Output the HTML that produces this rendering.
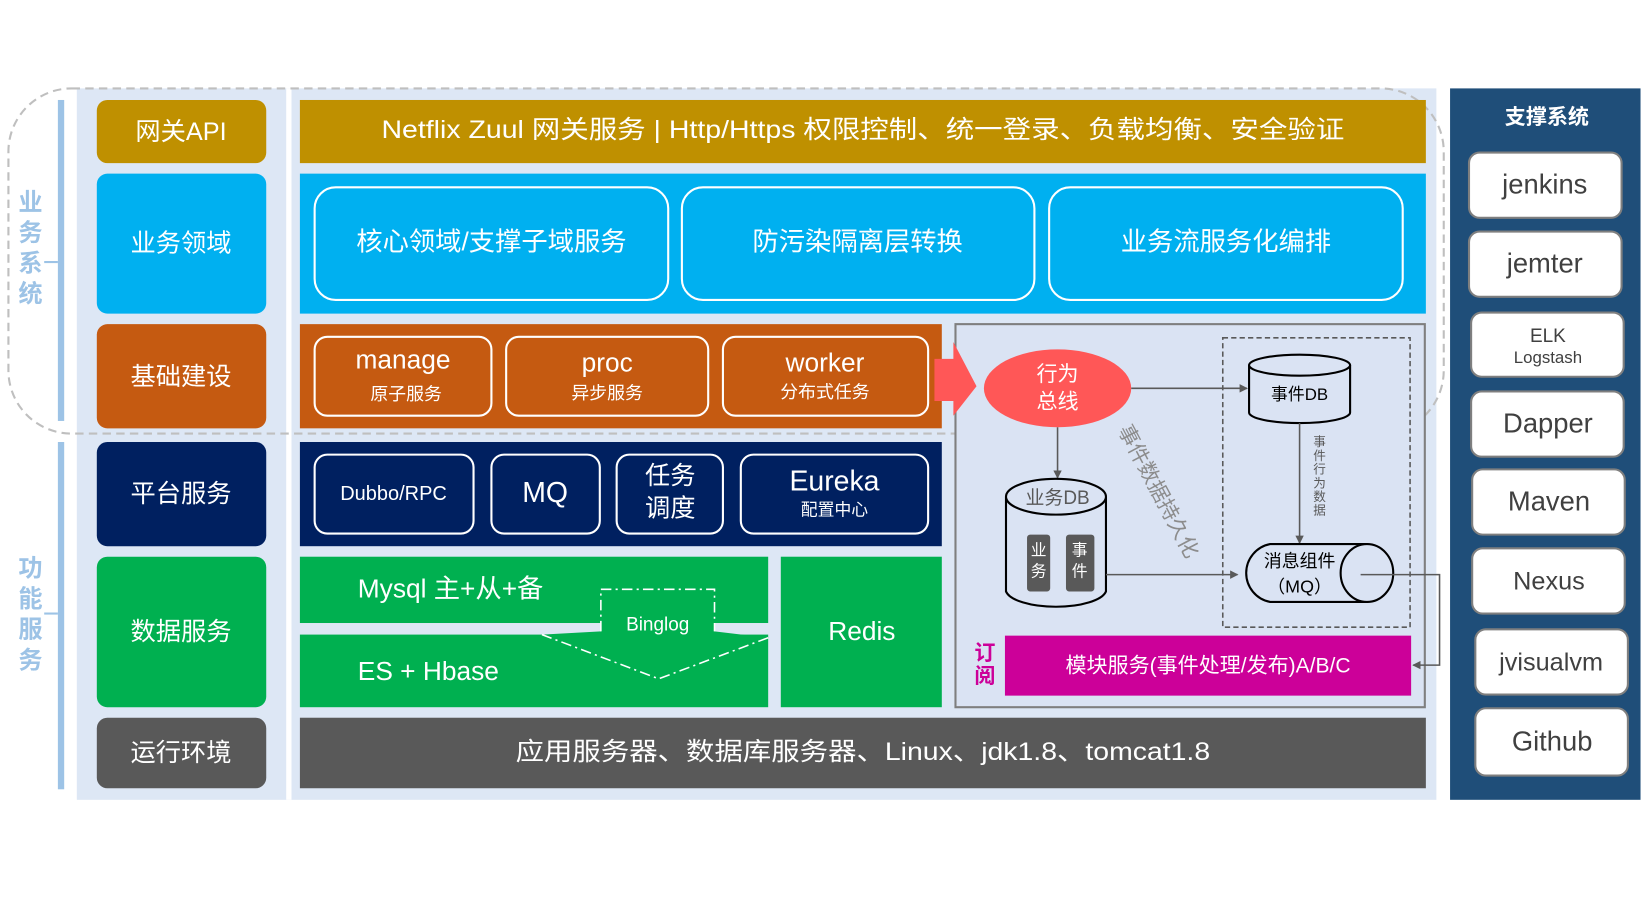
<!DOCTYPE html>
<html><head><meta charset="utf-8"><style>
html,body{margin:0;padding:0;background:#fff;width:1650px;height:924px;overflow:hidden}
svg{display:block}
text{font-family:"Liberation Sans","Noto Sans CJK SC",sans-serif}
</style></head><body>
<svg width="1650" height="924" viewBox="0 0 1568 878" preserveAspectRatio="none" xmlns="http://www.w3.org/2000/svg">
<defs>
<marker id="ah" markerWidth="8" markerHeight="8" refX="7" refY="4" orient="auto" markerUnits="userSpaceOnUse"><path d="M0,0 L8,4 L0,8 z" fill="#595959"/></marker>
</defs>
<rect x="73" y="84" width="1292" height="676" fill="#dde7f5"/>
<rect x="272" y="84" width="5" height="676" fill="#fff"/>
<rect x="55" y="95" width="6" height="305" fill="#9dc3e6"/>
<rect x="55" y="420" width="6" height="330" fill="#9dc3e6"/>
<line x1="42" y1="249" x2="55" y2="249" stroke="#9dc3e6" stroke-width="2"/>
<line x1="42" y1="583" x2="55" y2="583" stroke="#9dc3e6" stroke-width="2"/>
<g font-size="23" fill="#9dc3e6" font-weight="bold" text-anchor="middle">
<text x="29" y="200">业</text><text x="29" y="229">务</text><text x="29" y="258">系</text><text x="29" y="287">统</text>
<text x="29" y="548">功</text><text x="29" y="577">能</text><text x="29" y="606">服</text><text x="29" y="635">务</text>
</g>
<rect x="8" y="84" width="1364" height="328" rx="60" fill="none" stroke="#bfbfbf" stroke-width="2" stroke-dasharray="8,5"/>
<g font-size="24" fill="#fff" text-anchor="middle">
<rect x="92" y="95" width="161" height="60" rx="10" fill="#bf9000"/><text x="172" y="133">网关API</text>
<rect x="92" y="165" width="161" height="133" rx="10" fill="#00b0f0"/><text x="172" y="239">业务领域</text>
<rect x="92" y="308" width="161" height="99" rx="10" fill="#c55a11"/><text x="172" y="366">基础建设</text>
<rect x="92" y="420" width="161" height="99" rx="10" fill="#002060"/><text x="172" y="477">平台服务</text>
<rect x="92" y="529" width="161" height="143" rx="10" fill="#00b050"/><text x="172" y="608">数据服务</text>
<rect x="92" y="682" width="161" height="67" rx="10" fill="#595959"/><text x="172" y="723">运行环境</text>
</g>
<rect x="285" y="95" width="1070" height="60" fill="#bf9000"/>
<text x="820" y="131" font-size="24" fill="#fff" text-anchor="middle" textLength="915" lengthAdjust="spacingAndGlyphs">Netflix Zuul 网关服务 | Http/Https 权限控制、统一登录、负载均衡、安全验证</text>
<rect x="285" y="165" width="1070" height="133" fill="#00b0f0"/>
<g fill="none" stroke="#fff" stroke-width="2">
<rect x="299" y="178" width="336" height="107" rx="20"/>
<rect x="648" y="178" width="335" height="107" rx="20"/>
<rect x="997" y="178" width="336" height="107" rx="20"/>
</g>
<g font-size="25" fill="#fff" text-anchor="middle">
<text x="467" y="238">核心领域/支撑子域服务</text>
<text x="815" y="238">防污染隔离层转换</text>
<text x="1165" y="238">业务流服务化编排</text>
</g>
<rect x="285" y="308" width="610" height="99" fill="#c55a11"/>
<g fill="none" stroke="#fff" stroke-width="2">
<rect x="299" y="320" width="168" height="75" rx="12"/>
<rect x="481" y="320" width="192" height="75" rx="12"/>
<rect x="687" y="320" width="195" height="75" rx="12"/>
</g>
<g fill="#fff" text-anchor="middle">
<text x="383" y="350" font-size="25">manage</text><text x="386" y="380" font-size="17">原子服务</text>
<text x="577" y="353" font-size="25">proc</text><text x="577" y="379" font-size="17">异步服务</text>
<text x="784" y="353" font-size="25">worker</text><text x="784" y="378" font-size="17">分布式任务</text>
</g>
<rect x="285" y="420" width="610" height="99" fill="#002060"/>
<g fill="none" stroke="#fff" stroke-width="2">
<rect x="299" y="432" width="151" height="75" rx="12"/>
<rect x="467" y="432" width="103" height="75" rx="12"/>
<rect x="586" y="432" width="101" height="75" rx="12"/>
<rect x="704" y="432" width="178" height="75" rx="12"/>
</g>
<g fill="#fff" text-anchor="middle">
<text x="374" y="475" font-size="19">Dubbo/RPC</text>
<text x="518" y="477" font-size="27">MQ</text>
<text x="637" y="460" font-size="24">任务</text><text x="637" y="491" font-size="24">调度</text>
<text x="793" y="466" font-size="27">Eureka</text><text x="793" y="490" font-size="16">配置中心</text>
</g>
<rect x="285" y="529" width="445" height="63" fill="#00b050"/>
<rect x="285" y="603" width="445" height="69" fill="#00b050"/>
<rect x="742" y="529" width="153" height="143" fill="#00b050"/>
<path d="M571,560 L679,560 L679,600 L730,606 L626,645 L515,603 L571,600 Z" fill="#00b050"/>
<path d="M571,600 L571,560 L679,560 L679,600 M730,606 L626,645 L515,603" fill="none" stroke="#fff" stroke-width="1.5" stroke-dasharray="10,4,2,4"/>
<g fill="#fff">
<text x="340" y="568" font-size="25">Mysql 主+从+备</text>
<text x="340" y="646" font-size="25">ES + Hbase</text>
<text x="625" y="599" font-size="18" text-anchor="middle">Binglog</text>
<text x="819" y="608" font-size="25" text-anchor="middle">Redis</text>
</g>
<rect x="285" y="682" width="1070" height="67" fill="#595959"/>
<text x="820" y="722" font-size="24" fill="#fff" text-anchor="middle" textLength="660" lengthAdjust="spacingAndGlyphs">应用服务器、数据库服务器、Linux、jdk1.8、tomcat1.8</text>
<rect x="908" y="308" width="446" height="364" fill="#dae3f3" stroke="#7f7f7f" stroke-width="2"/>
<path d="M888,341 L906,341 L906,325 L928,367 L906,395 L906,381 L888,381 Z" fill="#ff5757"/>
<rect x="1162" y="321" width="178" height="275" fill="none" stroke="#595959" stroke-width="1.5" stroke-dasharray="5,3"/>
<ellipse cx="1005" cy="369" rx="70" ry="37" fill="#ff5757"/>
<text x="1005" y="362" font-size="20" fill="#fff" text-anchor="middle">行为</text>
<text x="1005" y="388" font-size="20" fill="#fff" text-anchor="middle">总线</text>
<line x1="1075" y1="369" x2="1185" y2="369" stroke="#595959" stroke-width="1.5" marker-end="url(#ah)"/>
<path d="M1187,347 L1187,392 A48,10 0 0 0 1283,392 L1283,347" fill="#dae3f3" stroke="#000" stroke-width="2"/>
<ellipse cx="1235" cy="347" rx="48" ry="10" fill="#dae3f3" stroke="#000" stroke-width="2"/>
<text x="1235" y="380" font-size="16" fill="#000" text-anchor="middle">事件DB</text>
<line x1="1235" y1="402" x2="1235" y2="516" stroke="#595959" stroke-width="1.5" marker-end="url(#ah)"/>
<g font-size="12" fill="#595959" text-anchor="middle">
<text x="1254" y="424">事</text><text x="1254" y="437">件</text><text x="1254" y="450">行</text><text x="1254" y="463">为</text><text x="1254" y="476">数</text><text x="1254" y="489">据</text>
</g>
<line x1="1005" y1="406" x2="1005" y2="454" stroke="#595959" stroke-width="1.5" marker-end="url(#ah)"/>
<path d="M956,472 L956,562 A48,17 0 0 0 1051,562 L1051,472" fill="#dae3f3" stroke="#000" stroke-width="2"/>
<ellipse cx="1003.5" cy="472" rx="47.5" ry="17" fill="#dae3f3" stroke="#000" stroke-width="2"/>
<text x="1005" y="479" font-size="18" fill="#595959" text-anchor="middle">业务DB</text>
<rect x="976" y="508" width="22" height="54" rx="3" fill="#595959"/>
<rect x="1013" y="508" width="27" height="54" rx="3" fill="#595959"/>
<g font-size="15" fill="#fff" text-anchor="middle">
<text x="987" y="528">业</text><text x="987" y="548">务</text>
<text x="1026" y="528">事</text><text x="1026" y="548">件</text>
</g>
<line x1="1051" y1="546" x2="1176" y2="546" stroke="#595959" stroke-width="1.5" marker-end="url(#ah)"/>
<text x="1095" y="470" font-size="20" fill="#8c8c8c" text-anchor="middle" transform="rotate(62 1095 470)">事件数据持久化</text>
<path d="M1207,517 L1299,517 A25,28 0 0 1 1299,572 L1207,572 A28,28 0 0 1 1207,517 Z" fill="#dae3f3" stroke="#000" stroke-width="2"/>
<ellipse cx="1299" cy="544.5" rx="25" ry="27.5" fill="#dae3f3" stroke="#000" stroke-width="2"/>
<text x="1235" y="539" font-size="17" fill="#000" text-anchor="middle">消息组件</text>
<text x="1235" y="563" font-size="17" fill="#000" text-anchor="middle">（MQ）</text>
<path d="M1293,546 L1368,546 L1368,632 L1343,632" fill="none" stroke="#595959" stroke-width="1.5" marker-end="url(#ah)"/>
<rect x="955" y="604" width="386" height="57" fill="#cc0099"/>
<text x="1148" y="639" font-size="20" fill="#fff" text-anchor="middle">模块服务(事件处理/发布)A/B/C</text>
<text x="936" y="627" font-size="20" fill="#cc0099" font-weight="bold" text-anchor="middle">订</text>
<text x="936" y="649" font-size="20" fill="#cc0099" font-weight="bold" text-anchor="middle">阅</text>
<rect x="1378" y="84" width="181" height="676" fill="#1f4e79"/>
<text x="1470" y="118" font-size="20" fill="#fff" font-weight="bold" text-anchor="middle">支撑系统</text>
<g fill="#fff" stroke="#7f7f7f" stroke-width="2">
<rect x="1396" y="145" width="145" height="62" rx="10"/>
<rect x="1396" y="220" width="145" height="62" rx="10"/>
<rect x="1398" y="297" width="145" height="61" rx="10"/>
<rect x="1398" y="372" width="145" height="62" rx="10"/>
<rect x="1399" y="446" width="145" height="62" rx="10"/>
<rect x="1399" y="521" width="145" height="62" rx="10"/>
<rect x="1402" y="598" width="145" height="62" rx="10"/>
<rect x="1402" y="673" width="145" height="64" rx="10"/>
</g>
<g fill="#404040" text-anchor="middle" font-size="26">
<text x="1468" y="184">jenkins</text>
<text x="1468" y="259">jemter</text>
<text x="1471" y="325" font-size="18">ELK</text>
<text x="1471" y="345" font-size="16">Logstash</text>
<text x="1471" y="411">Dapper</text>
<text x="1472" y="485">Maven</text>
<text x="1472" y="560" font-size="24">Nexus</text>
<text x="1474" y="637" font-size="24">jvisualvm</text>
<text x="1475" y="713">Github</text>
</g>
</svg>
</body></html>
